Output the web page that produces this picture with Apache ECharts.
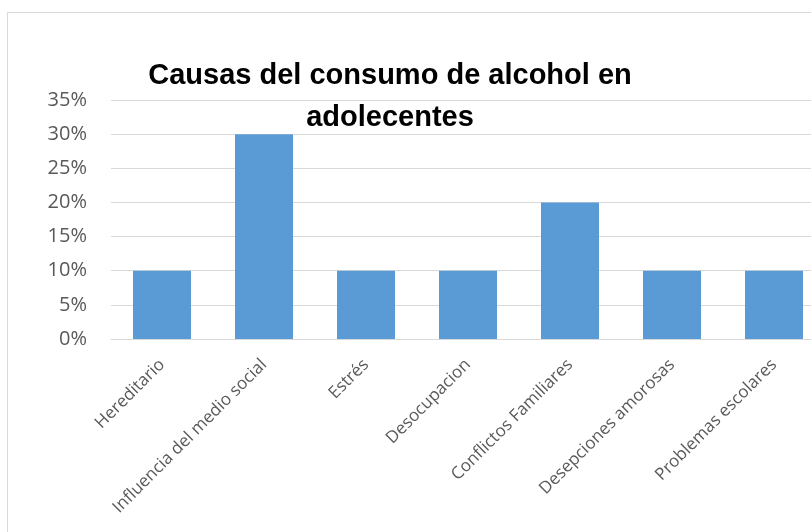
<!DOCTYPE html>
<html>
<head>
<meta charset="utf-8">
<script src="https://cdn.jsdelivr.net/npm/echarts@6/dist/echarts.min.js"></script>
<style>
html,body{margin:0;padding:0;background:#fff;}
#chart{width:811px;height:532px;}
</style>
</head>
<body>
<div id="chart"></div>
<script>
const titleText = 'Causas del consumo de alcohol en\nadolecentes';
const categories = ['Hereditario', 'Influencia del medio social', 'Estrés', 'Desocupacion', 'Conflictos Familiares', 'Desepciones amorosas', 'Problemas escolares'];
const values = [10, 30, 10, 10, 20, 10, 10];
const yTicks = { min: 0, max: 35, interval: 5 };

const chart = echarts.init(document.getElementById('chart'), null, { renderer: 'canvas' });
chart.setOption({
  animation: false,
  backgroundColor: '#ffffff',
  graphic: [{
    type: 'rect',
    shape: { x: 7.5, y: 12.5, width: 900, height: 600 },
    style: { fill: 'none', stroke: '#d9d9d9', lineWidth: 1 },
    silent: true
  }],
  title: {
    text: titleText,
    left: 385,
    top: 50,
    textAlign: 'center',
    textStyle: {
      fontFamily: '"Liberation Sans", Arial, sans-serif',
      fontWeight: 'bold',
      fontSize: 29,
      lineHeight: 42,
      color: '#000000'
    }
  },
  grid: { left: 111, width: 714, top: 100, height: 239, containLabel: false, outerBoundsMode: 'none' },
  xAxis: {
    type: 'category',
    data: categories,
    axisLine: { show: true, lineStyle: { color: '#d9d9d9', width: 1 } },
    axisTick: { show: false },
    axisLabel: {
      rotate: 45,
      interval: 0,
      margin: 23,
      color: '#595959',
      fontSize: 17,
      fontFamily: '"Open Sans", sans-serif'
    }
  },
  yAxis: {
    type: 'value',
    min: yTicks.min,
    max: yTicks.max,
    interval: yTicks.interval,
    axisLine: { show: false },
    axisTick: { show: false },
    splitLine: { lineStyle: { color: '#d9d9d9', width: 1 } },
    axisLabel: {
      formatter: '{value}%',
      margin: 24,
      color: '#595959',
      fontSize: 20,
      fontFamily: '"Open Sans", sans-serif'
    }
  },
  series: [{
    type: 'bar',
    data: values,
    barWidth: 58,
    itemStyle: { color: '#5b9bd5' },
    silent: true
  }]
});
</script>
</body>
</html>
